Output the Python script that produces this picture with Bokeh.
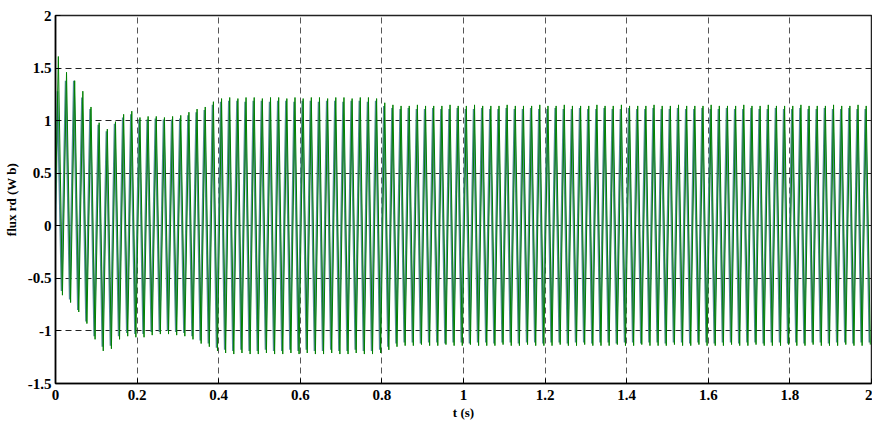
from bokeh.plotting import figure
from bokeh.models import Range1d, FixedTicker
from bokeh.embed import file_html
from bokeh.resources import INLINE
import numpy as np

# Rotor flux (d axis), 50 Hz supply: one positive peak and one negative peak per cycle
period = 0.02
t_start = 0.0
start_green = 0.2
start_blue = 0.0

green_peaks = [
    1.61, 1.46, 1.38, 1.28, 1.13, 0.98, 0.92, 0.99, 1.06, 1.09,
    1.03, 1.04, 1.04, 1.03, 1.04, 1.05, 1.08, 1.11, 1.13, 1.18,
    1.21, 1.22, 1.21, 1.22, 1.22, 1.21, 1.22, 1.22, 1.21, 1.22,
    1.21, 1.22, 1.22, 1.21, 1.22, 1.22, 1.21, 1.22, 1.22, 1.21,
    1.17, 1.15, 1.14, 1.14, 1.15, 1.14, 1.14, 1.14, 1.15, 1.14,
    1.14, 1.15, 1.14, 1.14, 1.14, 1.15, 1.14, 1.14, 1.14, 1.15,
    1.14, 1.14, 1.15, 1.14, 1.14, 1.14, 1.15, 1.14, 1.14, 1.15,
    1.14, 1.14, 1.14, 1.15, 1.14, 1.14, 1.15, 1.14, 1.14, 1.14,
    1.15, 1.14, 1.14, 1.14, 1.15, 1.14, 1.14, 1.15, 1.14, 1.14,
    1.14, 1.15, 1.14, 1.14, 1.14, 1.15, 1.14, 1.14, 1.15, 1.14,
]
green_troughs = [
    -0.66, -0.73, -0.82, -0.93, -1.08, -1.19, -1.17, -1.08, -1.05, -1.06,
    -1.06, -1.04, -1.03, -1.03, -1.04, -1.05, -1.08, -1.12, -1.15, -1.19,
    -1.21, -1.22, -1.21, -1.22, -1.22, -1.21, -1.22, -1.22, -1.21, -1.22,
    -1.21, -1.22, -1.22, -1.21, -1.22, -1.22, -1.21, -1.22, -1.22, -1.21,
    -1.18, -1.15, -1.14, -1.14, -1.13, -1.14, -1.14, -1.13, -1.14, -1.14,
    -1.13, -1.14, -1.14, -1.14, -1.13, -1.14, -1.14, -1.13, -1.14, -1.14,
    -1.14, -1.13, -1.14, -1.14, -1.13, -1.14, -1.14, -1.14, -1.13, -1.14,
    -1.14, -1.13, -1.14, -1.14, -1.14, -1.13, -1.14, -1.14, -1.13, -1.14,
    -1.14, -1.14, -1.13, -1.14, -1.14, -1.13, -1.14, -1.14, -1.14, -1.13,
    -1.14, -1.14, -1.13, -1.14, -1.14, -1.14, -1.13, -1.14, -1.14, -1.13,
]
blue_peaks = [
    1.28, 1.38, 1.38, 1.22, 1.11, 0.96, 0.90, 0.97, 1.03, 1.06,
    1.01, 1.01, 1.02, 1.01, 1.01, 1.02, 1.05, 1.08, 1.10, 1.15,
    1.18, 1.19, 1.19, 1.18, 1.19, 1.19, 1.18, 1.19, 1.19, 1.18,
    1.19, 1.19, 1.18, 1.19, 1.19, 1.18, 1.19, 1.19, 1.18, 1.19,
    1.14, 1.12, 1.11, 1.12, 1.11, 1.11, 1.12, 1.11, 1.11, 1.12,
    1.11, 1.11, 1.12, 1.11, 1.11, 1.12, 1.11, 1.11, 1.12, 1.11,
    1.11, 1.12, 1.11, 1.11, 1.12, 1.11, 1.11, 1.12, 1.11, 1.11,
    1.12, 1.11, 1.11, 1.12, 1.11, 1.11, 1.12, 1.11, 1.11, 1.12,
    1.11, 1.11, 1.12, 1.11, 1.11, 1.12, 1.11, 1.11, 1.12, 1.11,
    1.11, 1.12, 1.11, 1.11, 1.12, 1.11, 1.11, 1.12, 1.11, 1.11,
]
blue_troughs = [
    -0.62, -0.70, -0.80, -0.91, -1.05, -1.15, -1.14, -1.05, -1.02, -1.03,
    -1.03, -1.01, -1.01, -1.00, -1.01, -1.02, -1.05, -1.09, -1.12, -1.16,
    -1.18, -1.19, -1.18, -1.19, -1.19, -1.18, -1.19, -1.19, -1.18, -1.19,
    -1.18, -1.19, -1.19, -1.18, -1.19, -1.19, -1.18, -1.19, -1.19, -1.18,
    -1.15, -1.12, -1.11, -1.11, -1.12, -1.11, -1.11, -1.12, -1.11, -1.11,
    -1.12, -1.11, -1.11, -1.12, -1.11, -1.11, -1.12, -1.11, -1.11, -1.12,
    -1.11, -1.11, -1.12, -1.11, -1.11, -1.12, -1.11, -1.11, -1.12, -1.11,
    -1.11, -1.12, -1.11, -1.11, -1.12, -1.11, -1.11, -1.12, -1.11, -1.11,
    -1.12, -1.11, -1.11, -1.12, -1.11, -1.11, -1.12, -1.11, -1.11, -1.12,
    -1.11, -1.12, -1.11, -1.11, -1.12, -1.11, -1.11, -1.12, -1.11, -1.11,
]

x_ticks = [0, 0.2, 0.4, 0.6, 0.8, 1.0, 1.2, 1.4, 1.6, 1.8, 2.0]
x_tick_labels = ["0", "0.2", "0.4", "0.6", "0.8", "1", "1.2", "1.4", "1.6", "1.8", "2"]
y_ticks = [-1.5, -1.0, -0.5, 0.0, 0.5, 1.0, 1.5, 2.0]
y_tick_labels = ["-1.5", "-1", "-0.5", "0", "0.5", "1", "1.5", "2"]


def trace(peaks, troughs, start_value, peak_offset, trough_offset):
    """Alternate positive and negative peaks along the time axis."""
    k = np.arange(len(peaks))
    t = np.empty(2 * len(peaks))
    v = np.empty(2 * len(peaks))
    t[0::2] = k * period + peak_offset
    t[1::2] = k * period + trough_offset
    v[0::2], v[1::2] = peaks, troughs
    return np.concatenate([[t_start], t]), np.concatenate([[start_value], v])


tb, vb = trace(blue_peaks, blue_troughs, start_blue, 0.005, 0.015)
tg, vg = trace(green_peaks, green_troughs, start_green, 0.007, 0.017)

p = figure(width=872, height=429, output_backend="svg", toolbar_location=None,
           x_range=Range1d(0, 2), y_range=Range1d(-1.5, 2),
           min_border_left=54, min_border_right=1, min_border_top=15,
           min_border_bottom=46)
p.background_fill_color = "white"
p.border_fill_color = "white"
p.outline_line_color = "#222222"
p.outline_line_width = 1.5

p.line(tb, vb, line_color="#4f8a92", line_width=1.8)
p.line(tg, vg, line_color="#008000", line_width=1.0)

p.xaxis.ticker = FixedTicker(ticks=x_ticks)
p.yaxis.ticker = FixedTicker(ticks=y_ticks)
p.xaxis.major_label_overrides = {t: s for t, s in zip(x_ticks, x_tick_labels)}
p.yaxis.major_label_overrides = {t: s for t, s in zip(y_ticks, y_tick_labels)}

for ax in (p.xaxis[0], p.yaxis[0]):
    ax.axis_line_color = "black"
    ax.axis_line_width = 1.5
    ax.major_tick_in = 5
    ax.major_tick_out = 0
    ax.minor_tick_line_color = None
    ax.major_label_text_font = "Liberation Serif"
    ax.major_label_text_font_style = "bold"
    ax.major_label_text_font_size = "15px"
    ax.major_label_text_color = "black"
    ax.axis_label_text_font = "Liberation Serif"
    ax.axis_label_text_font_style = "bold"
    ax.axis_label_text_font_size = "13px"
    ax.axis_label_text_color = "black"

p.xaxis.axis_label = "t (s)"
p.xaxis.major_label_standoff = 6
p.xaxis.axis_label_standoff = 2
p.yaxis.axis_label = "flux rd (W b)"
p.yaxis.major_label_standoff = 4
p.yaxis.axis_label_standoff = 6

p.xgrid.grid_line_color = "#555555"
p.xgrid.grid_line_dash = "6 4"
p.xgrid.grid_line_width = 1
p.ygrid.grid_line_color = "#222222"
p.ygrid.grid_line_dash = "6 4"
p.ygrid.grid_line_width = 1

open("out.html", "w").write(file_html(p, INLINE))
